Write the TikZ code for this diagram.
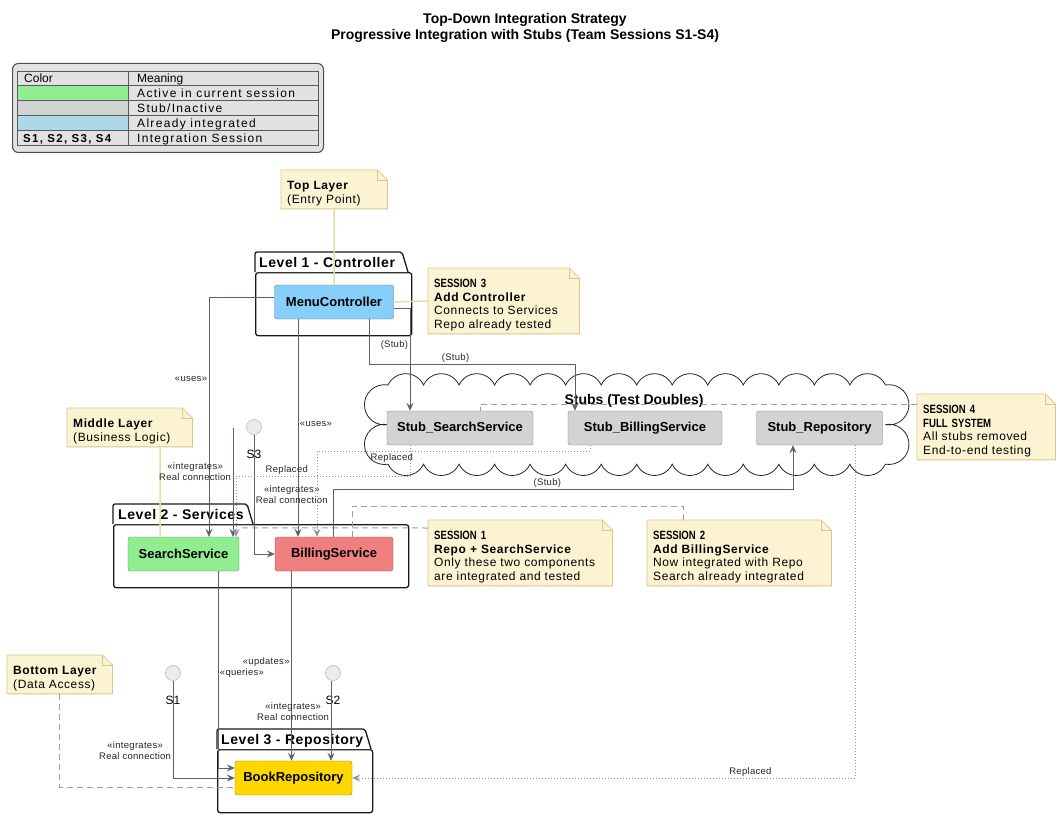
\documentclass[tikz,border=0pt]{standalone}
\usepackage{fontspec}
\usepackage{tikz}
\usetikzlibrary{arrows.meta,backgrounds,positioning}
\setmainfont{Liberation Sans}
\newfontfamily\condfont{Liberation Sans}[FakeStretch=0.8]
\newfontfamily\notefam{Liberation Sans}[LetterSpace=5]
\newfontfamily\pkgfam{Liberation Sans}[LetterSpace=4]
\newfontfamily\lblfam{Liberation Sans}[LetterSpace=3]
\newfontfamily\legfam{Liberation Sans}[LetterSpace=11]
\definecolor{notefill}{HTML}{FBF3D2}
\definecolor{noteline}{HTML}{D9C68A}
\definecolor{notelink}{HTML}{E9DBA6}
\definecolor{linkc}{HTML}{56626E}
\definecolor{activec}{HTML}{90EE90}
\definecolor{stubc}{HTML}{D3D3D3}
\definecolor{donec}{HTML}{87CEFA}
\definecolor{legblue}{HTML}{ADD8E6}
\definecolor{failc}{HTML}{F08080}
\definecolor{repoc}{HTML}{FFD700}
\definecolor{legbg}{HTML}{E2E2E2}
\newcommand\notefont{\notefam\fontsize{12}{13.5}\selectfont}
\newcommand\lblfont{\lblfam\fontsize{9.5}{11}\selectfont}
\newcommand\legfont{\legfam\fontsize{12}{14}\selectfont}

\begin{document}
\begin{tikzpicture}[
    x=1pt, y=-1pt,
    comp/.style={rectangle,rounded corners=2.5pt,draw=#1!60!black,fill=#1,minimum height=34pt,font=\fontsize{13}{15}\selectfont\bfseries},
    pkg/.style={rectangle,draw=black!90,line width=1.3pt,rounded corners=2.5pt,fill=white,anchor=north west,inner sep=0pt},
    pkgtab/.style={draw=black!90,line width=1.3pt,rounded corners=2pt,fill=white},
    pkgtitle/.style={anchor=base west,inner sep=0pt,font=\pkgfam\fontsize{14}{16}\selectfont\bfseries},
    note/.style={anchor=north west,inner xsep=6pt,inner ysep=3pt,align=left,font=\notefont,execute at begin node={\rule{0pt}{16.5pt}}},
    iface/.style={circle,draw=gray!70,fill=gray!15,minimum size=15pt,inner sep=0pt},
    ifacelbl/.style={font=\fontsize{12}{14}\selectfont,inner sep=0pt},
    lbl/.style={font=\lblfont,inner sep=1.5pt,text=black!85,align=center},
    arrow/.style={-{Stealth[length=8pt,width=7pt,inset=3pt]},draw=linkc,line width=0.9pt},
    replaced/.style={arrow,draw=gray!85,dash pattern=on 1pt off 2pt},
    notelinkline/.style={draw=notelink,line width=1.5pt},
    notedash/.style={draw=gray!75,line width=1pt,dash pattern=on 6pt off 4pt},
    legcell/.style={draw=black!65,line width=0.8pt},
    legtxt/.style={anchor=base west,inner sep=0pt,font=\legfont}
  ]
  \useasboundingbox (0,0) rectangle (1062,818);

  \node[font=\fontsize{14}{16}\selectfont\bfseries,align=center,inner sep=0pt,anchor=north] (title) at (525,13)
    {Top-Down Integration Strategy\\Progressive Integration with Stubs (Team Sessions S1-S4)};

  \node[draw=black!70,fill=legbg,rounded corners=6pt,line width=1pt,minimum width=311pt,minimum height=89pt,anchor=north west] (legend) at (12,63) {};
  \foreach \ya/\yb/\cc in {71/85/legbg,85/100/activec,100/115/stubc,115/130/legblue,130/145/legbg} {
    \draw[legcell,fill=\cc] (17,\ya) rectangle (128,\yb);
    \draw[legcell,fill=legbg] (128,\ya) rectangle (318,\yb);
  }
  \node[legtxt,font=\fontsize{12}{14}\selectfont] (lgcolor) at (24,83) {Color};
  \node[legtxt,font=\fontsize{12}{14}\selectfont] (lgmeaning) at (137,83) {Meaning};
  \node[legtxt] (lgactive) at (137,98) {Active in current session};
  \node[legtxt] (lgstub) at (137,113) {Stub/Inactive};
  \node[legtxt] (lgdone) at (137,128) {Already integrated};
  \node[legtxt,font=\legfam\fontsize{11.5}{14}\selectfont\bfseries] (lgsess) at (23,143) {S1, S2, S3, S4};
  \node[legtxt] (lgsessm) at (137,143) {Integration Session};

  \node[pkg,minimum width=156pt,minimum height=63pt] (lvl1) at (255,272) {};
  \node[pkg,minimum width=295pt,minimum height=63pt] (lvl2) at (113,524) {};
  \node[pkg,minimum width=155pt,minimum height=63pt] (lvl3) at (217,749) {};
  \foreach \p/\w in {lvl1/147,lvl2/134,lvl3/148}
    \draw[pkgtab] (\p.north west) -- ++(0,-20) -- ++(\w,0) -- ++(6,20);
  \node[pkgtitle] (lvl1lbl) at (259,267) {Level 1 - Controller};
  \node[pkgtitle] (lvl2lbl) at (118,519) {Level 2 - Services};
  \node[pkgtitle] (lvl3lbl) at (221,744) {Level 3 - Repository};

  \draw[fill=white,draw=black!85,line width=0.8pt] (388,385)
    \foreach \k in {1,...,14} {arc[start angle=155,end angle=25,radius=19.6pt]}
    \foreach \k in {1,2} {arc[start angle=100,end angle=-100,radius=20.1pt]}
    \foreach \k in {1,...,14} {arc[start angle=-25,end angle=-155,radius=19.6pt]}
    \foreach \k in {1,2} {arc[start angle=280,end angle=80,radius=20.1pt]}
    -- cycle;
  \node[font=\fontsize{14}{16}\selectfont\bfseries,anchor=base,inner sep=0pt] (stubslbl) at (634,404) {Stubs (Test Doubles)};

  \node[comp=donec,minimum width=119pt] (menu) at (334,302) {MenuController};
  \node[comp=activec,minimum width=111pt] (search) at (183.5,554) {SearchService};
  \node[comp=failc,minimum width=118pt] (billing) at (334,554) {BillingService};
  \node[comp=repoc,minimum width=117pt] (repo) at (293.5,778) {BookRepository};
  \node[comp=stubc,minimum width=146pt] (stubsearch) at (460,428) {Stub\_SearchService};
  \node[comp=stubc,minimum width=154pt] (stubbill) at (645,428) {Stub\_BillingService};
  \node[comp=stubc,minimum width=126pt] (stubrepo) at (819.5,428) {Stub\_Repository};

  \node[iface] (s1) at (173,673) {};
  \node[iface] (s2) at (333,673) {};
  \node[iface] (s3) at (254,427) {};
  \node[ifacelbl] (s1lbl) at (173,700) {S1};
  \node[ifacelbl] (s2lbl) at (333,700) {S2};
  \node[ifacelbl] (s3lbl) at (254,454) {S3};
  \coordinate (s3in) at (233,428);

  \node[note,text width=94pt] (ntop) at (281,170) {\textbf{Top Layer}\\(Entry Point)};
  \node[note,text width=139pt] (nses3) at (428,268) {{\condfont\bfseries SESSION 3}\\\textbf{Add Controller}\\Connects to Services\\Repo already tested};
  \node[note,text width=126pt] (nses4) at (917,394) {{\condfont\bfseries SESSION 4}\\{\condfont\bfseries FULL SYSTEM}\\All stubs removed\\End-to-end testing};
  \node[note,text width=113pt] (nmid) at (67,408) {\textbf{Middle Layer}\\(Business Logic)};
  \node[note,text width=172pt] (nses1) at (428,520) {{\condfont\bfseries SESSION 1}\\\textbf{Repo + SearchService}\\Only these two components\\are integrated and tested};
  \node[note,text width=172pt] (nses2) at (647,520) {{\condfont\bfseries SESSION 2}\\\textbf{Add BillingService}\\Now integrated with Repo\\Search already integrated};
  \node[note,text width=93pt] (nbot) at (7,655) {\textbf{Bottom Layer}\\(Data Access)};
  \begin{scope}[on background layer]
    \foreach \n in {ntop,nses3,nses4,nmid,nses1,nses2,nbot} {
      \filldraw[draw=noteline,fill=notefill,line width=0.8pt] (\n.south west) -- (\n.north west) -- ([xshift=-10pt]\n.north east) -- ([yshift=-10pt]\n.north east) -- (\n.south east) -- cycle;
      \draw[noteline,line width=0.8pt] ([xshift=-10pt]\n.north east) -- ([xshift=-10pt,yshift=-10pt]\n.north east) -- ([yshift=-10pt]\n.north east);
    }
  \end{scope}

  \draw[notelinkline] (ntop.south) -- (menu.north);
  \draw[notelinkline] (menu.east) -- (nses3.west);
  \draw[notelinkline] ([xshift=30.5pt]nmid.south) -- ([xshift=-23.5pt]search.north);
  \draw[notedash] ([yshift=-8pt]nses1.north west) -- ([yshift=9pt]search.north east);
  \draw[notedash] ([xshift=36pt]nses2.north west) -- ++(0,-14) -| ([xshift=18pt]billing.north);
  \draw[notedash] ([yshift=-10pt]nses4.north west) -| ([xshift=20pt]stubsearch.north);
  \draw[notedash] (nbot.south) |- ([yshift=-9pt]repo.west);

  \draw[arrow] ([yshift=5pt]menu.west) -| node[lbl,pos=0.67,anchor=east] {«uses»} ([xshift=25.5pt]search.north);
  \draw[arrow] ([xshift=-36pt]menu.south) -- node[lbl,pos=0.48,anchor=west] {«uses»} ([xshift=-36pt]billing.north);
  \draw[arrow] ([xshift=35pt]menu.south) -- ++(0,45) -| node[lbl,pos=0.21,anchor=south] {(Stub)} ([xshift=-70pt]stubbill.north);
  \draw[arrow] ([yshift=-6pt]menu.east) -| node[lbl,pos=0.68,anchor=east] {(Stub)} ([xshift=-50pt]stubsearch.north);
  \draw[arrow] (s3) |- node[lbl,pos=0.25,anchor=west] {«integrates»\\Real connection} (billing.west);
  \draw[arrow] (s3in) -- node[lbl,pos=0.4,anchor=east] {«integrates»\\Real connection} ([xshift=49.5pt]search.north);
  \draw[replaced] ([xshift=-50pt]stubsearch.south) -- ++(0,31) -| node[lbl,pos=0.354,anchor=south] {Replaced} ([xshift=52.5pt]search.north);
  \draw[replaced] ([xshift=-55pt]stubbill.south) -- ++(0,6) -| node[lbl,pos=0.363,anchor=north] {Replaced} ([xshift=-17pt]billing.north);
  \draw[arrow] ([xshift=-1pt]billing.north) -- ++(0,-47) -| node[lbl,pos=0.233,anchor=south] {(Stub)} ([xshift=-26.5pt]stubrepo.south);
  \draw[arrow] ([xshift=34.5pt]search.south) |- node[lbl,pos=0.26,anchor=west] {«queries»} ([yshift=10pt]repo.west);
  \draw[arrow] ([xshift=-42.5pt]billing.south) -- node[lbl,pos=0.48,anchor=east] {«updates»} ([xshift=-2pt]repo.north);
  \draw[arrow] ([xshift=-2pt]s2.south) -- node[lbl,pos=0.39,anchor=east] {«integrates»\\Real connection} ([xshift=-2pt]s2.south |- repo.north);
  \draw[arrow] (s1) |- node[lbl,pos=0.36,anchor=east] {«integrates»\\Real connection} (repo.west);
  \draw[replaced] ([xshift=35.5pt]stubrepo.south) |- node[lbl,pos=0.604,anchor=south] {Replaced} (repo.east);
\end{tikzpicture}
\end{document}
